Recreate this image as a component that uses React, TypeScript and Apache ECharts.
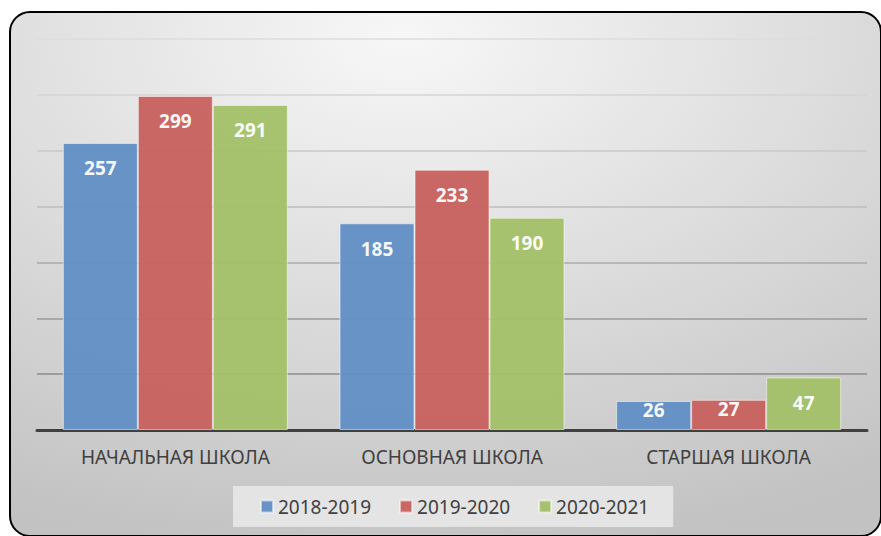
import React, { useEffect, useRef } from "react";
import * as echarts from "echarts";

const categories = ["НАЧАЛЬНАЯ ШКОЛА", "ОСНОВНАЯ ШКОЛА", "СТАРШАЯ ШКОЛА"];
const seriesNames = ["2018-2019", "2019-2020", "2020-2021"];
const values2018 = [257, 185, 26];
const values2019 = [299, 233, 27];
const values2020 = [291, 190, 47];
const colors = ["#6390c6", "#c7625f", "#a3c16a"];
const FONT = "'Noto Sans', 'Open Sans', sans-serif";

export default function App() {
  const ref = useRef<HTMLDivElement>(null);
  useEffect(() => {
    if (!ref.current) return;
    const chart = echarts.init(ref.current, null, { renderer: "svg" });
    const allValues = [values2018, values2019, values2020];
    const series = allValues.map((vals, i) => ({
      name: seriesNames[i],
      type: "bar",
      barWidth: 75,
      barGap: "0%",
      data: vals.map((v) => ({
        value: v,
        label: { distance: v < 30 ? 0 : 16 },
      })),
      itemStyle: {
        color: colors[i],
        borderColor: "rgba(255,255,255,0.55)",
        borderWidth: 1,
        opacity: 0.96,
      },
      label: {
        show: true,
        position: "insideTop",
        color: "#ffffff",
        fontWeight: "bold",
        fontSize: 19,
        fontFamily: FONT,
      },
    }));
    chart.setOption({
      animation: false,
      color: colors,
      graphic: {
        elements: [
          {
            type: "rect",
            z: -100,
            shape: { x: 10, y: 12, width: 871, height: 524, r: 20 },
            style: {
              fill: new echarts.graphic.RadialGradient(0.45, 0.05, 1.0, [
                { offset: 0, color: "#f7f7f7" },
                { offset: 1, color: "#c2c2c2" },
              ]),
              stroke: "#000000",
              lineWidth: 2,
            },
          },
        ],
      },
      grid: { left: 37, right: 14, top: 39, bottom: 106, containLabel: false },
      legend: {
        data: seriesNames,
        left: 233,
        top: 486,
        backgroundColor: "#e4e4e4",
        padding: [11, 24, 11, 27],
        itemWidth: 12,
        itemHeight: 12,
        itemGap: 28,
        icon: "rect",
        textStyle: { color: "#404040", fontSize: 19, fontFamily: FONT },
      },
      xAxis: {
        type: "category",
        data: categories,
        axisTick: { show: false },
        axisLine: { lineStyle: { color: "#404040", width: 3 } },
        axisLabel: { color: "#404040", fontSize: 19, fontFamily: FONT, margin: 17 },
      },
      yAxis: {
        type: "value",
        min: 0,
        max: 350,
        interval: 50,
        axisLabel: { show: false },
        axisLine: { show: false },
        axisTick: { show: false },
        splitLine: {
          lineStyle: {
            width: 1.5,
            color: ["#404040", "#8c8c8c", "#9a9a9a", "#aaaaaa", "#bdbdbd", "#c8c8c8", "#d4d4d4", "#dcdcdc"],
          },
        },
      },
      series,
    });
    return () => chart.dispose();
  }, []);
  return (
    <div
      ref={ref}
      style={{ position: "absolute", left: 0, top: 0, width: 881, height: 536 }}
    />
  );
}
